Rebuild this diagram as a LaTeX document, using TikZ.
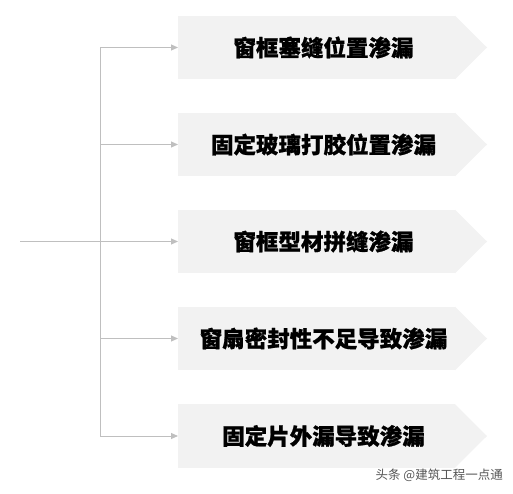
\documentclass[tikz,border=0pt]{standalone}
\usepackage{fontspec}
\newfontfamily\cjk{Noto Sans CJK SC}
\newfontfamily\cjkb[BoldFeatures={FakeBold=0.9}]{Noto Sans CJK SC}
\usetikzlibrary{arrows.meta}
\definecolor{boxfill}{HTML}{F2F2F2}
\definecolor{linegray}{HTML}{BFBFBF}
\definecolor{wmgray}{HTML}{555555}
\tikzset{
  boxr/.style={fill=boxfill, draw=none, minimum width=277pt, minimum height=63.5pt, inner sep=0pt, outer sep=0pt},
  lbl/.style={font=\cjkb\bfseries\fontsize{22.5}{24}\selectfont, text=black, inner sep=0pt},
  conn/.style={draw=linegray, line width=1pt, -{Triangle[length=7pt,width=6pt]}},
  trunk/.style={draw=linegray, line width=1pt},
}
\begin{document}
\begin{tikzpicture}[x=1pt,y=-1pt]
\useasboundingbox (0,0) rectangle (513,494);
% boxes
\foreach \i/\y/\t in {1/47.5/窗框塞缝位置渗漏, 2/144.5/固定玻璃打胶位置渗漏, 3/241.5/窗框型材拼缝渗漏, 4/338.5/窗扇密封性不足导致渗漏, 5/436/固定片外漏导致渗漏}{
  \node[boxr] (b\i) at (316.5,\y) {};
  \fill[boxfill] (b\i.north east) -- ([xshift=32pt]b\i.east) -- (b\i.south east) -- cycle;
  \node[lbl] (t\i) at (323.5,\y) {\t};
  \coordinate (j\i) at (100,\y);
}
\coordinate (s) at (20,241.5);
\draw[trunk] (j1) -- (j5);
\draw[trunk] (s) -- (j3);
\foreach \i in {1,...,5}{
  \draw[conn] (j\i) -- (b\i.west);
}
\node[font=\cjk\fontsize{12.5}{14}\selectfont, text=wmgray, anchor=east, inner sep=0pt] (wm) at (503,475) {头条 @建筑工程一点通};
\end{tikzpicture}
\end{document}
